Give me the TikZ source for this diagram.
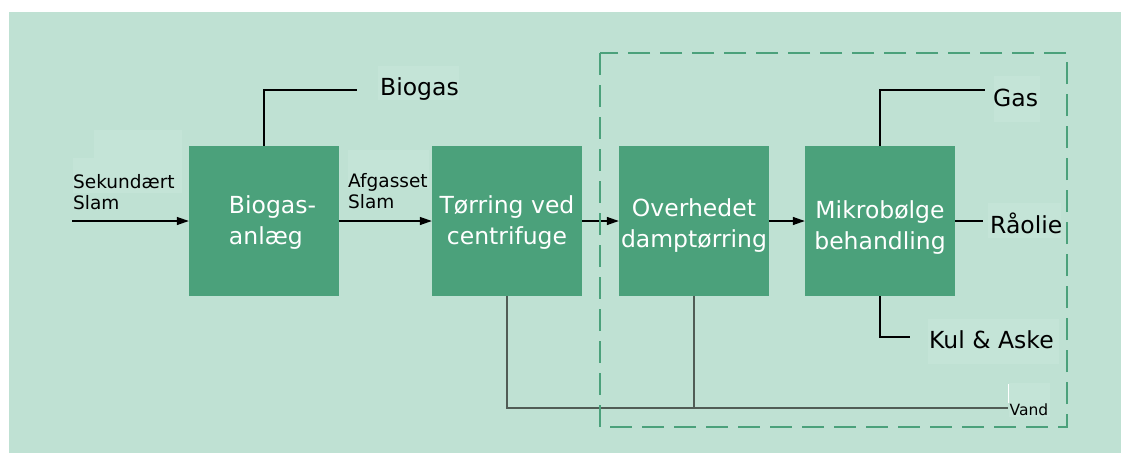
\documentclass[tikz,border=0pt]{standalone}
\usepackage{fontspec}
\setmainfont{DejaVu Sans}
\usetikzlibrary{arrows.meta}
\definecolor{panel}{HTML}{BFE1D3}
\definecolor{labelbg}{HTML}{C4E4D7}
\definecolor{unit}{HTML}{4BA17B}
\definecolor{drainline}{HTML}{505C55}
\begin{document}
\begin{tikzpicture}[x=1pt, y=-1pt,
  unitbox/.style={fill=unit, minimum width=150pt, minimum height=150pt, inner sep=0pt},
  unittext/.style={text=white, inner sep=0pt, font=\fontsize{23.5}{31}\selectfont},
  outlabel/.style={inner sep=0pt, anchor=base west, font=\fontsize{23.5}{28}\selectfont},
  inlabel/.style={inner sep=0pt, anchor=base west, align=left, font=\fontsize{18.5}{20.5}\selectfont},
  tinylabel/.style={inner sep=0pt, anchor=base west, font=\fontsize{15.5}{18}\selectfont},
  flow/.style={line width=1.3pt, -{Triangle[length=12pt,width=8pt]}},
  branch/.style={line width=1.3pt},
  drain/.style={line width=2pt, draw=drainline},
  zone/.style={draw=unit, line width=2.2pt, dash pattern=on 22pt off 10pt}
]
% page and panel
\useasboundingbox[fill=white] (0,0) rectangle (1130,455);
\fill[panel] (9,12) rectangle (1121,453);

% faint text frames behind the stream labels
\fill[labelbg] (94,130) rectangle (182,158);
\fill[labelbg] (73,158) rectangle (182,193);
\fill[labelbg] (348,150) rectangle (429,188);
\fill[labelbg] (378,66) rectangle (459,100);
\fill[labelbg] (994,76) rectangle (1040,122);
\fill[labelbg] (988,203) rectangle (1061,238);
\fill[labelbg] (928,319) rectangle (1059,364);
\fill[labelbg] (1009,383) rectangle (1050,417);
\draw[white, line width=1pt] (1008.5,384) -- (1008.5,403);

% process units
\node[unitbox] (bio) at (264,221) {};
\node[unittext, align=left] (bio-text) at (272.5,223) {Biogas-\\anlæg};
\node[unitbox] (cen) at (507,221) {};
\node[unittext, align=center] (cen-text) at (507,223) {Tørring ved\\centrifuge};
\node[unitbox] (odt) at (694,221) {};
\node[unittext, align=center] (odt-text) at (694,226) {Overhedet\\damptørring};
\node[unitbox] (mik) at (880,221) {};
\node[unittext, align=center] (mik-text) at (880,228) {Mikrobølge\\behandling};

% stream labels (anchored on the baseline of their last line)
\node[inlabel] (in-label) at (73,209) {Sekundært\\Slam};
\node[inlabel] (mid-label) at (348,208) {Afgasset\\Slam};
\node[outlabel] (biogas-label) at (380,95) {Biogas};
\node[outlabel] (gas-label) at (993,106) {Gas};
\node[outlabel] (oil-label) at (990,233) {Råolie};
\node[outlabel] (ash-label) at (929,348) {Kul \& Aske};
\node[tinylabel] (water-label) at (1009.5,415) {Vand};

% free line ends
\coordinate (feed) at (72,221);
\coordinate (biogas-end) at (357,90);
\coordinate (gas-end) at (985,90);
\coordinate (oil-end) at (983,221);
\coordinate (ash-end) at (910,337);
\coordinate (water-end) at (1008,408);

% main flow
\draw[flow] (feed) -- (bio.west);
\draw[flow] (bio.east) -- (cen.west);
\draw[flow] (cen.east) -- (odt.west);
\draw[flow] (odt.east) -- (mik.west);

% products
\draw[branch] (bio.north) |- (biogas-end);
\draw[branch] (mik.north) |- (gas-end);
\draw[branch] (mik.east) -- (oil-end);
\draw[branch] (mik.south) |- (ash-end);

% water removed in the drying steps
\draw[drain] (cen.south) |- (water-end);
\draw[drain] (odt.south) -- (odt.south |- water-end);

% boundary of the thermal treatment
\draw[zone] (600,53) rectangle (1067,427);
\end{tikzpicture}
\end{document}
